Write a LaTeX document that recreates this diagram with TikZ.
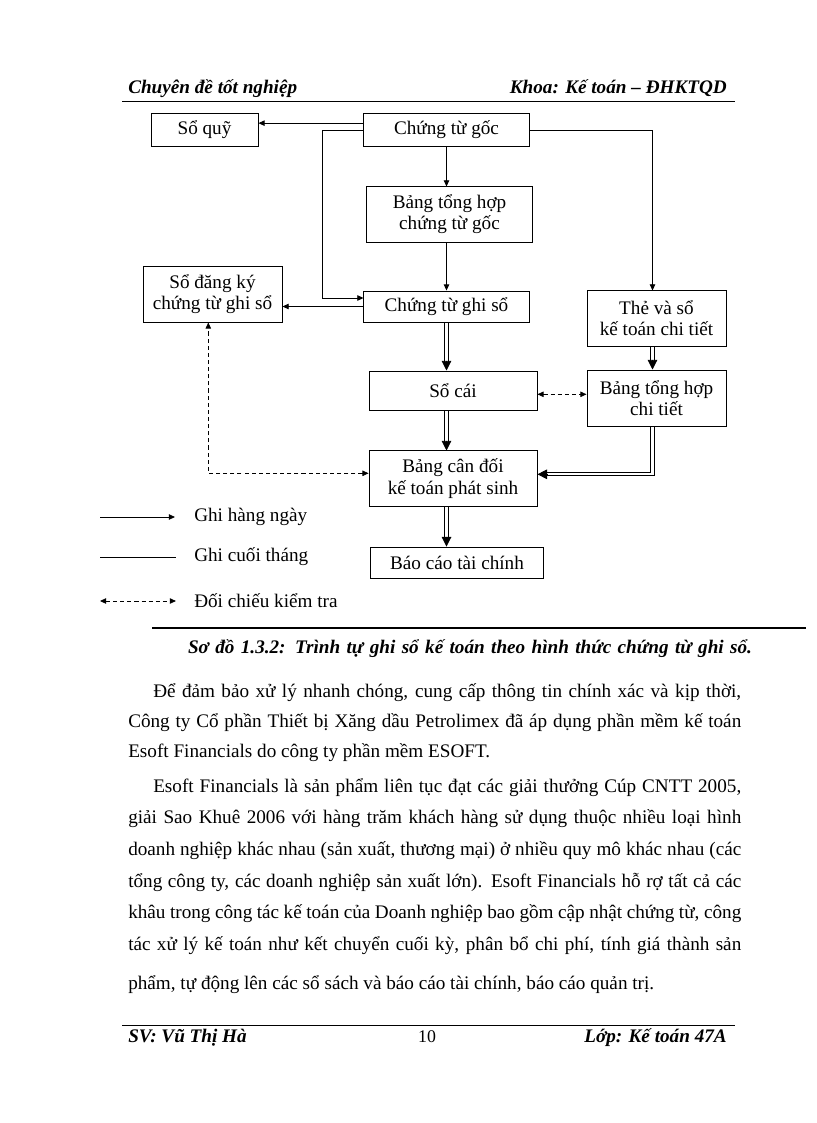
\documentclass[tikz,border=0pt]{standalone}
\usepackage{fontspec}
\setmainfont{Liberation Serif}
\usetikzlibrary{arrows.meta}

\newcommand{\fullline}[1]{\makebox[447.5pt][s]{#1}}
\newcommand{\indentline}[1]{\makebox[429.2pt][s]{#1}}

\begin{document}
\begin{tikzpicture}
	[x=0.73pt,y=-0.73pt,
	box/.style={draw,line width=0.7pt,inner sep=0pt,align=center,
font=\fontsize{14}{15.5}\selectfont},
	daily/.style={line width=0.6pt,-{Triangle[length=4.5pt,width=4pt]}},
	monthly/.style={line width=0.6pt,shorten >=3pt},
	monthtip/.style={line width=0.6pt,-{Triangle[length=7pt,width=7pt]}},
	check/.style={line width=0.6pt,dash pattern=on 3pt off 2.2pt,
{Triangle[length=4.5pt,width=4pt]}-{Triangle[length=4.5pt,width=4pt]}},
	headtext/.style={inner sep=0pt,font=\fontsize{14}{17}\selectfont\bfseries\itshape},
	bodyline/.style={anchor=base west,inner sep=0pt,font=\fontsize{14}{17}\selectfont},
	legtext/.style={anchor=west,inner sep=0pt,font=\fontsize{14}{17}\selectfont}]
	\useasboundingbox[fill=white] (0,0) rectangle (816,1123);

	% header of the page
	\node at (128,94) (head1) [headtext,anchor=base west] {Chuyên đề tốt nghiệp};
	\node at (727,94) (head2) [headtext,anchor=base east] {Khoa: Kế toán – ĐHKTQD};
	\draw[line width=0.5pt] (122,101) -- (735,101);

	% boxes
	\node at (204.5,130) (soquy) [box,minimum width=78.1pt,minimum height=23.4pt] {Sổ quỹ};
	\node at (446.5,130) (ctgoc) [box,minimum width=120.5pt,minimum height=23.4pt] {Chứng từ gốc};
	\node at (449.5,214.5) (bthgoc) [box,minimum width=120.5pt,minimum height=40.2pt] {Bảng tổng hợp\\chứng từ gốc};
	\node at (212.5,294) (sodk) [box,minimum width=101.5pt,minimum height=40.9pt] {Sổ đăng ký\\chứng từ ghi sổ};
	\node at (446.5,306.5) (ctgs) [box,minimum width=120.5pt,minimum height=22.6pt] {Chứng từ ghi sổ};
	\node at (656.5,318.5) (thesct) [box,minimum width=101.5pt,minimum height=40.2pt] {Thẻ và sổ\\kế toán chi tiết};
	\node at (453,390.5) (socai) [box,minimum width=122.6pt,minimum height=28.5pt] {Sổ cái};
	\node at (656.5,398) (bthct) [box,minimum width=101.5pt,minimum height=40.9pt] {Bảng tổng hợp\\chi tiết};
	\node at (453,478.5) (bcd) [box,minimum width=122.6pt,minimum height=40.2pt] {Bảng cân đối\\kế toán phát sinh};
	\node at (457,562.5) (bctc) [box,minimum width=125.6pt,minimum height=22.6pt] {Báo cáo tài chính};

	% bends of the connectors
	\coordinate (lcol) at (322.7,298);
	\coordinate (rcol) at (652.5,130);
	\coordinate (rbend) at (652.5,474.3);
	\coordinate (rbendo) at (654.1,475.9);
	\coordinate (rbendi) at (650.9,472.7);
	\coordinate (lbend) at (208.3,473.3);
	\coordinate (mid) at (560,394.3);

	% ghi hang ngay
	\draw[daily] ([yshift=5pt]ctgoc.west) -- ([yshift=5pt]ctgoc.west -| soquy.east);
	\draw[daily] (ctgoc.west) -| (lcol) -- (lcol -| ctgs.west);
	\draw[daily] (ctgoc.east) -- (rcol) -- (rcol |- thesct.north);
	\draw[daily] (ctgoc.south) -- (ctgoc.south |- bthgoc.north);
	\draw[daily] (ctgoc.south |- bthgoc.south) -- (ctgoc.south |- ctgs.north);
	\draw[daily] (ctgs.west) -- (ctgs.west -| sodk.east);

	% ghi cuoi thang (double lines)
	\draw[monthly] ([xshift=-1.2pt]ctgs.south) -- ([xshift=-1.2pt]ctgs.south |- socai.north);
	\draw[monthly] ([xshift=1.2pt]ctgs.south) -- ([xshift=1.2pt]ctgs.south |- socai.north);
	\draw[monthtip] ([yshift=7pt]ctgs.south |- socai.north) -- (ctgs.south |- socai.north);
	\draw[monthly] ([xshift=-1.2pt]ctgs.south |- socai.south) -- ([xshift=-1.2pt]ctgs.south |- bcd.north);
	\draw[monthly] ([xshift=1.2pt]ctgs.south |- socai.south) -- ([xshift=1.2pt]ctgs.south |- bcd.north);
	\draw[monthtip] ([yshift=7pt]ctgs.south |- bcd.north) -- (ctgs.south |- bcd.north);
	\draw[monthly] ([xshift=-1.2pt]ctgs.south |- bcd.south) -- ([xshift=-1.2pt]ctgs.south |- bctc.north);
	\draw[monthly] ([xshift=1.2pt]ctgs.south |- bcd.south) -- ([xshift=1.2pt]ctgs.south |- bctc.north);
	\draw[monthtip] ([yshift=7pt]ctgs.south |- bctc.north) -- (ctgs.south |- bctc.north);
	\draw[monthly] ([xshift=-1.2pt]rcol |- thesct.south) -- ([xshift=-1.2pt]rcol |- bthct.north);
	\draw[monthly] ([xshift=1.2pt]rcol |- thesct.south) -- ([xshift=1.2pt]rcol |- bthct.north);
	\draw[monthtip] ([yshift=7pt]rcol |- bthct.north) -- (rcol |- bthct.north);
	\draw[monthly] (rbendo |- bthct.south) -- (rbendo) -- (rbendo -| bcd.east);
	\draw[monthly] (rbendi |- bthct.south) -- (rbendi) -- (rbendi -| bcd.east);
	\draw[monthtip] ([xshift=7pt]rbend -| bcd.east) -- (rbend -| bcd.east);

	% doi chieu kiem tra
	\draw[check] (lbend -| bcd.west) -- (lbend) -- (lbend |- sodk.south);
	\draw[check] (mid -| socai.east) -- (mid -| bthct.west);

	% legend
	\node at (194,517) (legday) [legtext] {Ghi hàng ngày};
	\node at (194,557) (legmonth) [legtext] {Ghi cuối tháng};
	\node at (194,601) (legcheck) [legtext] {Đối chiếu kiểm tra};
	\coordinate (leg1) at (100,517);
	\coordinate (leg2) at (100,557);
	\coordinate (leg3) at (100,601);
	\draw[daily,shorten >=13.9pt] (leg1) -- (legday.west);
	\draw[line width=0.6pt,shorten >=13.2pt] (leg2) -- (legmonth.west);
	\draw[check,shorten >=13.2pt] (leg3) -- (legcheck.west);

	% caption
	\draw[line width=1.1pt] (152,628) -- (806,628);
	\node at (470,653) (caption) [headtext,anchor=base] {\makebox[411.7pt][s]{Sơ đồ 1.3.2: Trình tự ghi sổ kế toán theo hình thức chứng từ ghi sổ.}};

	% text of the page
	\node at (153,697) (p1a) [bodyline] {\indentline{Để đảm bảo xử lý nhanh chóng, cung cấp thông tin chính xác và kịp thời,}};
	\node at (128,727) (p1b) [bodyline] {\fullline{Công ty Cổ phần Thiết bị Xăng dầu Petrolimex đã áp dụng phần mềm kế toán}};
	\node at (128,757) (p1c) [bodyline] {Esoft Financials do công ty phần mềm ESOFT.};
	\node at (153,792) (p2a) [bodyline] {\indentline{Esoft Financials là sản phẩm liên tục đạt các giải thưởng Cúp CNTT 2005,}};
	\node at (128,823) (p2b) [bodyline] {\fullline{giải Sao Khuê 2006 với hàng trăm khách hàng sử dụng thuộc nhiều loại hình}};
	\node at (128,855) (p2c) [bodyline] {\fullline{doanh nghiệp khác nhau (sản xuất, thương mại) ở nhiều quy mô khác nhau (các}};
	\node at (128,887) (p2d) [bodyline] {\fullline{tổng công ty, các doanh nghiệp sản xuất lớn). Esoft Financials hỗ rợ tất cả các}};
	\node at (128,918) (p2e) [bodyline] {\fullline{khâu trong công tác kế toán của Doanh nghiệp bao gồm cập nhật chứng từ, công}};
	\node at (128,950) (p2f) [bodyline] {\fullline{tác xử lý kế toán như kết chuyển cuối kỳ, phân bổ chi phí, tính giá thành sản}};
	\node at (128,989) (p2g) [bodyline] {phẩm, tự động lên các sổ sách và báo cáo tài chính, báo cáo quản trị.};

	% footer of the page
	\draw[line width=0.5pt] (122,1025) -- (735,1025);
	\node at (128,1042) (foot1) [headtext,anchor=base west] {SV: Vũ Thị Hà};
	\node at (427,1042) (foot2) [anchor=base,inner sep=0pt,font=\fontsize{13}{15}\selectfont] {10};
	\node at (727,1042) (foot3) [headtext,anchor=base east] {Lớp: Kế toán 47A};
\end{tikzpicture}
\end{document}
